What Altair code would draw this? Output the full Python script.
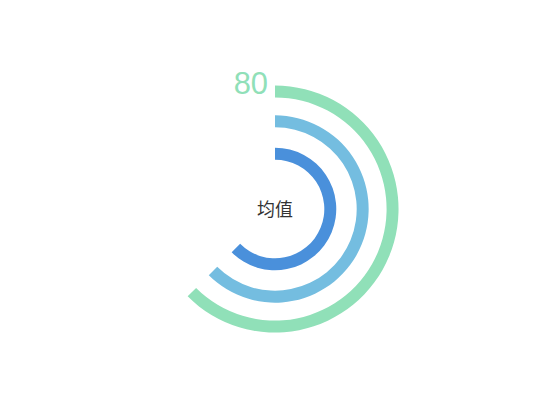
import math
import altair as alt
import pandas as pd

# ---- data ----
rings = ["外环", "中环", "内环"]
values = [80, 80, 80]
max_value = 128
center_label = "均值"
colors = ["#90e0b8", "#74bde0", "#4a90db"]
outer_radii = [124, 94, 61.5]
inner_radii = [112, 82, 49.5]

df = pd.DataFrame({"ring": rings, "value": values})
theta_scale = alt.Scale(domain=[0, max_value], range=[0, 2 * math.pi])

layers = []
for name, col, ro, ri in zip(rings, colors, outer_radii, inner_radii):
    layers.append(
        alt.Chart(df)
        .transform_filter(alt.datum.ring == name)
        .transform_calculate(start="0")
        .mark_arc(radius=ro, radius2=ri, color=col)
        .encode(
            theta=alt.Theta("start:Q", scale=theta_scale, stack=None),
            theta2="value:Q",
        )
    )

# value label at the start of the outer ring
label = (
    alt.Chart(df)
    .transform_filter(alt.datum.ring == rings[0])
    .transform_calculate(start="0")
    .mark_text(
        radius=124, align="right", baseline="middle", dx=-7,
        fontSize=31, color=colors[0], font="Liberation Sans",
    )
    .encode(
        theta=alt.Theta("start:Q", scale=theta_scale, stack=None),
        text=alt.Text("value:Q"),
    )
)

center = (
    alt.Chart(pd.DataFrame({"t": [center_label], "start": [0]}))
    .mark_text(
        radius=0, align="center", baseline="middle", dy=2,
        fontSize=18, color="#333333", font="Noto Sans CJK SC",
    )
    .encode(
        theta=alt.Theta("start:Q", scale=theta_scale, stack=None),
        text="t:N",
    )
)

chart = (
    alt.layer(*layers, label, center)
    .properties(width=536, height=402, padding=0, background="#ffffff")
    .configure_view(stroke=None)
)

chart.save("out.html", embed_options={"renderer": "svg", "actions": False})
